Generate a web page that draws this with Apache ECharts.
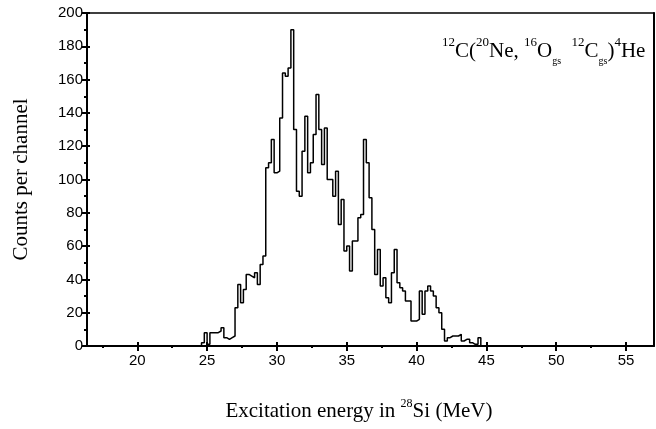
<!DOCTYPE html>
<html>
<head>
<meta charset="utf-8">
<script src="https://cdn.jsdelivr.net/npm/echarts@6/dist/echarts.min.js"></script>
<style>
html, body { margin: 0; padding: 0; background: #fff; }
#main { width: 656px; height: 429px; }
</style>
</head>
<body>
<div id="main"></div>
<script>
// channel grid of the spectrum (MeV)
var binStart = 24.6;
var binWidth = 0.2;
// counts per channel, one value per channel from binStart
var counts = [
	2, 8, 1, 8, 8, 8, 9, 11, 5, 4,
	5, 6, 23, 37, 26, 34, 43, 42, 41, 44,
	37, 49, 54, 107, 110, 124, 104, 105, 137, 164,
	162, 167, 190, 130, 93, 90, 117, 138, 104, 110,
	127, 151, 130, 109, 131, 100, 100, 90, 105, 73,
	88, 57, 60, 45, 63, 63, 77, 79, 124, 110,
	89, 70, 43, 58, 36, 41, 29, 26, 44, 58,
	38, 35, 33, 27, 27, 15, 15, 16, 33, 19,
	33, 36, 33, 30, 23, 20, 10, 3, 5, 6,
	6, 6, 7, 3, 4, 4, 2, 1, 1, 5
];
var xMajor = [20, 25, 30, 35, 40, 45, 50, 55];
var xMinor = [17.5, 22.5, 27.5, 32.5, 37.5, 42.5, 47.5, 52.5];
var xMin = 16.4, xMax = 57;

var myChart = echarts.init(document.getElementById('main'), null, { renderer: 'canvas' });

// step points: left edge of each channel, closed at both ends
var stepData = [[binStart, 0]];
counts.forEach(function(c, i) {
	stepData.push([Math.round((binStart + i * binWidth) * 100) / 100, c]);
});
stepData.push([Math.round((binStart + counts.length * binWidth) * 100) / 100, 0]);

var black = '#000';
var hidden = { show: false };

var option = {
	backgroundColor: '#fff',
	animation: false,
	grid: {
		left: 87,
		right: 2,
		top: 13,
		bottom: 83,
		containLabel: false
	},
	xAxis: [{
		type: 'value',
		position: 'bottom',
		min: xMin,
		max: xMax,
		axisLine: { lineStyle: { color: black, width: 2 } },
		axisTick: { customValues: xMajor, length: 5, lineStyle: { color: black, width: 2 } },
		axisLabel: {
			customValues: xMajor,
			color: black,
			fontSize: 15,
			fontFamily: 'Liberation Sans',
			margin: 7
		},
		splitLine: hidden
	}, {
		// major ticks also poke inside
		type: 'value',
		position: 'bottom',
		min: xMin,
		max: xMax,
		axisLine: hidden,
		axisTick: { customValues: xMajor, inside: true, length: 4, lineStyle: { color: black, width: 2 } },
		axisLabel: hidden,
		splitLine: hidden
	}, {
		// minor ticks
		type: 'value',
		position: 'bottom',
		min: xMin,
		max: xMax,
		axisLine: hidden,
		axisTick: { customValues: xMinor, length: 2, lineStyle: { color: black, width: 2 } },
		axisLabel: hidden,
		splitLine: hidden
	}, {
		// top frame
		type: 'value',
		position: 'top',
		min: xMin,
		max: xMax,
		axisLine: { lineStyle: { color: black, width: 1.5 } },
		axisTick: hidden,
		axisLabel: hidden,
		splitLine: hidden
	}],
	yAxis: [{
		type: 'value',
		position: 'left',
		min: 0,
		max: 200,
		interval: 20,
		name: 'Counts per channel',
		nameLocation: 'middle',
		nameGap: 55,
		nameTextStyle: {
			color: black,
			fontSize: 21,
			fontFamily: 'Liberation Serif'
		},
		axisLine: { lineStyle: { color: black, width: 2 } },
		axisTick: { length: 5, lineStyle: { color: black, width: 2 } },
		minorTick: { show: true, splitNumber: 2, length: 3, lineStyle: { color: black, width: 2 } },
		axisLabel: {
			color: black,
			fontSize: 15,
			fontFamily: 'Liberation Sans',
			margin: 4
		},
		splitLine: hidden,
		minorSplitLine: hidden
	}, {
		type: 'value',
		position: 'left',
		min: 0,
		max: 200,
		interval: 20,
		axisLine: hidden,
		axisTick: { inside: true, length: 3, lineStyle: { color: black, width: 2 } },
		axisLabel: hidden,
		splitLine: hidden
	}, {
		// right frame
		type: 'value',
		position: 'right',
		min: 0,
		max: 200,
		axisLine: { lineStyle: { color: black, width: 2 } },
		axisTick: hidden,
		axisLabel: hidden,
		splitLine: hidden
	}],
	series: [{
		type: 'line',
		xAxisIndex: 0,
		yAxisIndex: 0,
		step: 'end',
		data: stepData,
		showSymbol: false,
		symbol: 'none',
		lineStyle: { color: black, width: 1.5 },
		z: 3
	}],
	graphic: [{
		type: 'text',
		x: 359,
		y: 411,
		style: {
			text: 'Excitation energy in {sup|28}Si (MeV)',
			align: 'center',
			verticalAlign: 'middle',
			fill: black,
			fontSize: 21,
			fontFamily: 'Liberation Serif',
			rich: {
				sup: { fontSize: 12, fontFamily: 'Liberation Serif', verticalAlign: 'top', lineHeight: 26 }
			},
			lineHeight: 26
		}
	}, {
		type: 'text',
		x: 442,
		y: 36,
		style: {
			text: '{sup|12}{n|C(}{sup|20}{n|Ne, }{sup|16}{n|O}{sub|gs}{n|  }{sup|12}{n|C}{sub|gs}{n|)}{sup|4}{n|He}',
			fill: black,
			rich: {
				n: { fontSize: 21, fontFamily: 'Liberation Serif', lineHeight: 30, verticalAlign: 'middle' },
				sup: { fontSize: 13, fontFamily: 'Liberation Serif', lineHeight: 30, verticalAlign: 'top' },
				sub: { fontSize: 10, fontFamily: 'Liberation Serif', lineHeight: 30, verticalAlign: 'bottom' }
			}
		}
	}]
};

myChart.setOption(option);
</script>
</body>
</html>
